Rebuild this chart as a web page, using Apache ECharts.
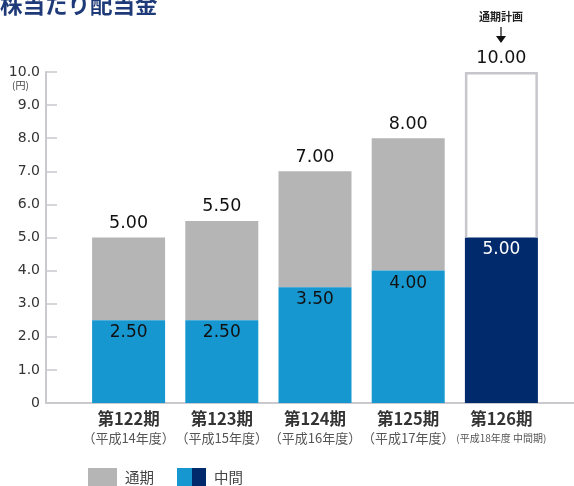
<!DOCTYPE html>
<html><head><meta charset="utf-8">
<script src="https://cdn.jsdelivr.net/npm/echarts@6/dist/echarts.min.js"></script>
<style>html,body{margin:0;padding:0;background:#fff}#c{width:574px;height:486px}</style>
</head><body><div id="c"></div>
<script>
const periods = ['第122期','第123期','第124期','第125期','第126期'];
const years = ['（平成14年度）','（平成15年度）','（平成16年度）','（平成17年度）','(平成18年度 中間期)'];
const interim = [2.5, 2.5, 3.5, 4.0, 5.0];
const annual = [5.0, 5.5, 7.0, 8.0, 10.0];
const yTicks = [0, 1, 2, 3, 4, 5, 6, 7, 8, 9, 10];
const planIndex = 4;

const BLUE = '#1797d0', NAVY = '#002a6c', GREY = '#b5b5b5', OUTLINE = '#c6c6cc';
const FONT = '"Noto Sans CJK JP", "Noto Sans", sans-serif';
const NUM = '"DejaVu Sans", sans-serif';
const BAR_W = 73;
const rest = annual.map((v, i) => +(v - interim[i]).toFixed(2));

const chart = echarts.init(document.getElementById('c'));
chart.setOption({
  animation: false,
  textStyle: { fontFamily: FONT },
  grid: [
    { left: 46, right: 0, top: 72, bottom: 83 },
    { left: 82, right: 26, top: 72, bottom: 83 }
  ],
  xAxis: [
    { gridIndex: 0, type: 'category', data: [''], axisLine: { lineStyle: { color: '#c9c9ce', width: 2 } }, axisTick: { show: false }, axisLabel: { show: false } },
    { gridIndex: 1, type: 'category', data: periods, axisLine: { show: false }, axisTick: { show: false },
      axisLabel: {
        margin: 6, interval: 0,
        formatter: (v, i) => '{a|' + v + '}\n' + (i === 4 ? '{c|' + years[i] + '}' : '{b|' + years[i] + '}'),
        rich: {
          a: { fontSize: 16.5, fontWeight: 'bold', color: '#333', fontFamily: FONT, lineHeight: 20 },
          b: { fontSize: 13, color: '#555', fontFamily: FONT, lineHeight: 18 },
          c: { fontSize: 10, color: '#555', fontFamily: FONT, lineHeight: 18 }
        }
      } }
  ],
  yAxis: [
    { gridIndex: 0, type: 'value', min: 0, max: 10, interval: 1,
      axisLine: { show: true, lineStyle: { color: '#c9c9ce', width: 2 } },
      axisTick: { show: true, inside: true, length: 11, lineStyle: { color: '#c9c9ce', width: 1.5 } },
      splitLine: { show: false },
      axisLabel: { margin: 6, fontSize: 14, color: '#333', fontFamily: NUM,
        formatter: v => yTicks.includes(v) ? (v === 0 ? '0' : v.toFixed(1)) : '' } },
    { gridIndex: 1, type: 'value', min: 0, max: 10, interval: 1, show: false }
  ],
  series: [
    { name: '中間', type: 'bar', stack: 's', xAxisIndex: 1, yAxisIndex: 1, barWidth: BAR_W, z: 3,
      data: interim.map((v, i) => ({ value: v,
        itemStyle: { color: i === planIndex ? NAVY : BLUE },
        label: { color: i === planIndex ? '#fff' : '#111' } })),
      label: { show: true, position: 'insideTop', distance: 4, fontSize: 17, fontFamily: NUM,
        formatter: p => p.value.toFixed(2) } },
    { name: '通期', type: 'bar', stack: 's', xAxisIndex: 1, yAxisIndex: 1, barWidth: BAR_W, z: 2,
      data: rest.map((v, i) => ({ value: v, itemStyle: { color: i === planIndex ? '#fff' : GREY } })),
      label: { show: true, position: 'top', distance: 5, fontSize: 17.5, color: '#111', fontFamily: NUM,
        formatter: p => annual[p.dataIndex].toFixed(2) } },
    { name: '通期計画枠', type: 'custom', xAxisIndex: 1, yAxisIndex: 1, z: 4, silent: true,
      data: [[planIndex, interim[planIndex], annual[planIndex]]],
      renderItem: (params, api) => {
        const bot = api.coord([api.value(0), api.value(1)]);
        const top = api.coord([api.value(0), api.value(2)]);
        const h = BAR_W / 2 - 1.25;
        return { type: 'polyline',
          shape: { points: [[bot[0] - h, bot[1]], [bot[0] - h, top[1] + 1.25], [bot[0] + h, top[1] + 1.25], [bot[0] + h, bot[1]]] },
          style: { stroke: OUTLINE, lineWidth: 2.5, fill: null } };
      } }
  ],
  graphic: [
    { type: 'text', left: 0, top: -7, style: { text: '株当たり配当金', fontSize: 22.5, fontWeight: 'bold', fill: '#1f3a78', fontFamily: FONT } },
    { type: 'text', left: 12, top: 80, style: { text: '(円)', fontSize: 10, fill: '#444', fontFamily: FONT } },
    { type: 'text', x: 501, y: 17, style: { text: '通期計画', fontSize: 11, fontWeight: 'bold', fill: '#222', align: 'center', verticalAlign: 'middle', fontFamily: FONT } },
    { type: 'line', shape: { x1: 501, y1: 27, x2: 501, y2: 38 }, style: { stroke: '#111', lineWidth: 1.2 } },
    { type: 'polygon', shape: { points: [[496, 36], [506, 36], [501, 43]] }, style: { fill: '#111' } },
    { type: 'rect', shape: { x: 88, y: 468, width: 29, height: 18 }, style: { fill: GREY } },
    { type: 'text', x: 125, y: 477, style: { text: '通期', fontSize: 14.5, fill: '#444', verticalAlign: 'middle', fontFamily: FONT } },
    { type: 'rect', shape: { x: 177, y: 468, width: 15, height: 18 }, style: { fill: BLUE } },
    { type: 'rect', shape: { x: 192, y: 468, width: 14, height: 18 }, style: { fill: NAVY } },
    { type: 'text', x: 214, y: 477, style: { text: '中間', fontSize: 14.5, fill: '#444', verticalAlign: 'middle', fontFamily: FONT } }
  ]
});
</script></body></html>
